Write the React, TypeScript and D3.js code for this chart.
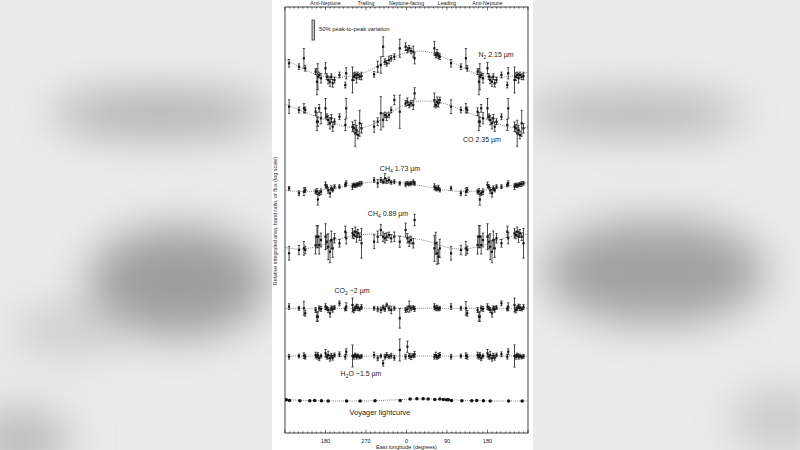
import React, { useEffect, useRef } from "react";
import * as d3 from "d3";

// longitude axis (unwrapped: 90..630 covers 1.5 rotations)
const longitudeTicks = [180, 270, 360, 450, 540];
const tickLabels = ["180", "270", "0", "90", "180"];
const faceLabels = ["Anti-Neptune", "Trailing", "Neptune-facing", "Leading", "Anti-Neptune"];

// sub-observer east longitudes of the spectra (deg)
const obsLongitudes = [
    163, 166, 170, 180, 183, 186, 190, 193, 196, 200,
    211, 224, 226, 240, 243, 246, 249, 252, 256, 260,
    288, 296, 303, 308, 312, 316, 321, 326, 333, 345,
    358, 2, 6, 10, 15, 18, 62, 65, 68, 71,
    74, 99, 121, 132, 135, 158, 161,
];

// relative values (1 = band mean), and fractional errors
const n2Values = [
    0.774, 0.801, 0.749, 0.917, 0.774, 0.724, 0.699, 0.774, 0.677, 0.724,
    0.801, 0.654, 0.829, 0.724, 0.774, 0.801, 0.749, 0.801, 0.774, 0.785,
    0.812, 0.947, 0.98, 1.418, 1.047, 1.014, 1.084, 1.122, 1.159, 1.373,
    1.418, 1.327, 1.373, 1.3, 1.282, 1.122, 1.373, 1.199, 1.241, 1.183,
    1.159, 1.014, 0.947, 1.122, 0.917, 0.856, 0.699,
];
const n2Errors = [
    0.3, 0.06, 0.1, 0.12, 0.06, 0.08, 0.1, 0.06, 0.08, 0.06,
    0.06, 0.06, 0.12, 0.3, 0.08, 0.06, 0.1, 0.06, 0.06, 0.08,
    0.06, 0.12, 0.18, 0.22, 0.06, 0.06, 0.08, 0.06, 0.06, 0.2,
    0.08, 0.06, 0.06, 0.06, 0.12, 0.12, 0.15, 0.06, 0.08, 0.06,
    0.06, 0.08, 0.06, 0.22, 0.06, 0.06, 0.3,
];
const coValues = [
    0.865, 1.133, 0.926, 1.133, 0.956, 0.895, 0.837, 0.926, 0.782, 0.865,
    0.956, 0.809, 1.133, 0.782, 0.757, 0.684, 0.731, 0.661, 0.837, 0.757,
    0.782, 0.865, 1.025, 0.895, 0.99, 0.956, 0.99, 1.095, 1.34, 1.058,
    1.254, 1.295, 1.212, 1.254, 1.212, 1.534, 1.34, 1.212, 1.295, 1.254,
    1.34, 1.171, 1.095, 1.133, 1.095, 1.058, 0.865,
];
const coErrors = [
    0.1, 0.08, 0.12, 0.22, 0.06, 0.1, 0.12, 0.08, 0.1, 0.06,
    0.06, 0.12, 0.22, 0.1, 0.08, 0.3, 0.1, 0.08, 0.3, 0.1,
    0.12, 0.08, 0.4, 0.15, 0.06, 0.08, 0.06, 0.06, 0.1, 0.4,
    0.06, 0.08, 0.06, 0.06, 0.1, 0.12, 0.15, 0.06, 0.1, 0.08,
    0.06, 0.15, 0.06, 0.1, 0.06, 0.08, 0.2,
];
const ch4aValues = [
    0.769, 0.872, 0.9, 1.031, 0.996, 0.923, 0.872, 0.964, 0.932, 0.996,
    0.996, 1.031, 1.067, 0.996, 1.031, 1.016, 1.031, 1.045, 1.052, 1.067,
    1.14, 1.067, 1.14, 1.102, 1.18, 1.117, 1.14, 1.089, 1.102, 1.067,
    1.045, 1.067, 1.052, 1.067, 1.089, 1.067, 0.996, 0.964, 0.951, 0.976,
    0.932, 0.964, 0.872, 0.9, 0.932, 0.9, 0.904,
];
const ch4aErrors = [
    0.12, 0.05, 0.06, 0.06, 0.04, 0.06, 0.08, 0.05, 0.04, 0.04,
    0.04, 0.04, 0.05, 0.06, 0.04, 0.04, 0.04, 0.04, 0.05, 0.04,
    0.05, 0.08, 0.05, 0.04, 0.1, 0.05, 0.06, 0.04, 0.04, 0.04,
    0.05, 0.04, 0.04, 0.04, 0.05, 0.04, 0.06, 0.05, 0.04, 0.05,
    0.04, 0.04, 0.05, 0.08, 0.05, 0.04, 0.06,
];
const ch4bValues = [
    1.113, 0.941, 1.041, 1.113, 1.006, 0.909, 0.822, 1.041, 0.88, 1.078,
    0.974, 1.231, 1.078, 1.192, 1.152, 1.231, 1.113, 1.192, 1.113, 0.974,
    1.006, 1.113, 1.274, 1.113, 1.078, 1.113, 1.152, 1.078, 1.113, 1.006,
    1.274, 1.078, 1.006, 1.041, 0.974, 1.56, 0.88, 0.974, 0.796, 0.743,
    0.88, 0.796, 0.851, 0.88, 0.851, 0.941, 1.113,
];
const ch4bErrors = [
    0.25, 0.2, 0.15, 0.3, 0.15, 0.3, 0.25, 0.2, 0.2, 0.1,
    0.08, 0.12, 0.12, 0.1, 0.08, 0.1, 0.12, 0.08, 0.08, 0.35,
    0.15, 0.12, 0.12, 0.1, 0.1, 0.08, 0.06, 0.08, 0.1, 0.12,
    0.15, 0.1, 0.1, 0.08, 0.1, 0.12, 0.3, 0.25, 0.25, 0.15,
    0.2, 0.15, 0.1, 0.15, 0.08, 0.2, 0.25,
];
const co2Values = [
    0.846, 1.0, 0.986, 1.035, 1.0, 0.966, 0.904, 1.0, 0.98, 1.014,
    1.106, 0.986, 1.035, 1.069, 0.966, 1.0, 1.035, 1.014, 0.986, 1.027,
    1.0, 0.98, 0.966, 1.014, 0.986, 1.069, 1.0, 0.966, 1.0, 0.817,
    0.966, 0.986, 1.035, 1.0, 1.014, 0.986, 1.035, 1.0, 1.014, 0.986,
    1.0, 1.035, 1.0, 1.0, 0.904, 0.966, 0.846,
];
const co2Errors = [
    0.1, 0.05, 0.05, 0.06, 0.04, 0.05, 0.08, 0.05, 0.06, 0.04,
    0.05, 0.04, 0.08, 0.15, 0.06, 0.05, 0.05, 0.06, 0.04, 0.05,
    0.04, 0.05, 0.06, 0.05, 0.05, 0.04, 0.05, 0.08, 0.04, 0.22,
    0.05, 0.06, 0.12, 0.05, 0.04, 0.05, 0.06, 0.05, 0.05, 0.04,
    0.04, 0.06, 0.04, 0.15, 0.06, 0.05, 0.1,
];
const h2oValues = [
    1.02, 0.955, 1.0, 1.056, 0.986, 1.02, 0.955, 1.006, 0.966, 1.02,
    1.035, 0.986, 1.091, 1.0, 0.986, 1.02, 0.986, 1.0, 0.98, 0.994,
    1.02, 0.955, 1.0, 0.863, 0.986, 1.02, 0.986, 1.006, 0.966, 1.129,
    0.986, 1.207, 1.0, 0.986, 1.006, 1.035, 0.986, 1.02, 0.974, 1.0,
    1.02, 0.986, 1.0, 1.006, 0.986, 1.02, 0.986,
];
const h2oErrors = [
    0.05, 0.05, 0.04, 0.08, 0.05, 0.08, 0.06, 0.05, 0.05, 0.04,
    0.05, 0.05, 0.06, 0.25, 0.05, 0.04, 0.05, 0.04, 0.04, 0.04,
    0.06, 0.05, 0.04, 0.06, 0.05, 0.05, 0.04, 0.05, 0.05, 0.25,
    0.05, 0.12, 0.05, 0.06, 0.04, 0.06, 0.05, 0.06, 0.04, 0.05,
    0.05, 0.05, 0.04, 0.06, 0.05, 0.06, 0.05,
];

// Voyager lightcurve
const voyagerLongitudes = [8, 23, 37, 48, 63, 74, 82, 89, 93, 100, 123, 145, 156, 171, 186, 227, 257, 290, 346];
const voyagerValues = [
    1.035, 1.041, 1.041, 1.035, 1.027, 1.035, 1.027, 1.02, 1.02, 1.006,
    1.0, 1.0, 1.006, 1.0, 0.994, 0.994, 0.994, 1.0, 1.006,
];

// sinusoidal fits, read at every 45 deg
const fitLongitudes = [0, 45, 90, 135, 180, 225, 270, 315];
const n2Fit = [1.256, 1.282, 1.106, 0.886, 0.774, 0.774, 0.851, 1.062];
const coFit = [1.236, 1.313, 1.228, 1.045, 0.895, 0.782, 0.782, 0.97];
const ch4aFit = [1.067, 0.992, 0.926, 0.904, 0.937, 1.008, 1.08, 1.106];
const ch4bFit = [1.1, 1.02, 0.898, 0.873, 0.966, 1.1, 1.168, 1.168];
const co2Fit = [1, 1, 1, 1, 1, 1, 1, 1];
const h2oFit = [1, 1, 1, 1, 1, 1, 1, 1];
const voyagerFit = [1.027, 1.037, 1.024, 1.006, 0.996, 0.994, 0.996, 1.01];

type Part = { t: string; sub?: boolean };

interface Band {
    values: number[];
    errors: number[] | null;
    lons: number[];
    fit: number[];
    centerY: number;
    label: Part[];
    labelX: number;
    labelY: number;
    dots?: boolean;
}

const W = 800;
const H = 450;
const frame = { left: 285, right: 528, top: 7, bottom: 433 };
const decadePx = 114; // px per factor of 10 (log scale)
const font = "'Liberation Sans', Arial, Helvetica, sans-serif";
const ink = "#141414";

const bands: Band[] = [
    { values: n2Values, errors: n2Errors, lons: obsLongitudes, fit: n2Fit, centerY: 64,
      label: [{ t: "N" }, { t: "2", sub: true }, { t: " 2.15 µm" }], labelX: 496, labelY: 57 },
    { values: coValues, errors: coErrors, lons: obsLongitudes, fit: coFit, centerY: 114.5,
      label: [{ t: "CO 2.35 µm" }], labelX: 482, labelY: 142 },
    { values: ch4aValues, errors: ch4aErrors, lons: obsLongitudes, fit: ch4aFit, centerY: 186.5,
      label: [{ t: "CH" }, { t: "4", sub: true }, { t: " 1.73 µm" }], labelX: 400, labelY: 171 },
    { values: ch4bValues, errors: ch4bErrors, lons: obsLongitudes, fit: ch4bFit, centerY: 242,
      label: [{ t: "CH" }, { t: "4", sub: true }, { t: " 0.89 µm" }], labelX: 388, labelY: 216 },
    { values: co2Values, errors: co2Errors, lons: obsLongitudes, fit: co2Fit, centerY: 308.3,
      label: [{ t: "CO" }, { t: "2", sub: true }, { t: " ~2 µm" }], labelX: 352, labelY: 293 },
    { values: h2oValues, errors: h2oErrors, lons: obsLongitudes, fit: h2oFit, centerY: 356,
      label: [{ t: "H" }, { t: "2", sub: true }, { t: "O ~1.5 µm" }], labelX: 361, labelY: 376 },
    { values: voyagerValues, errors: null, lons: voyagerLongitudes, fit: voyagerFit, centerY: 400.7,
      label: [{ t: "Voyager lightcurve" }], labelX: 380, labelY: 415, dots: true },
];

// soft blurred backdrop outside the figure panel
const backdrop = [
    { cx: 160, cy: 114, rx: 110, ry: 22, fill: "#acacac" },
    { cx: 178, cy: 282, rx: 90, ry: 55, fill: "#9e9e9e" },
    { cx: 70, cy: 330, rx: 60, ry: 25, fill: "#cdcdcd" },
    { cx: 20, cy: 440, rx: 50, ry: 30, fill: "#b8b8b8" },
    { cx: 635, cy: 114, rx: 110, ry: 20, fill: "#b0b0b0" },
    { cx: 655, cy: 272, rx: 110, ry: 52, fill: "#a2a2a2" },
    { cx: 780, cy: 420, rx: 50, ry: 30, fill: "#c8c8c8" },
];

// all copies of a longitude inside the 90..630 window
const wrap = (lon: number) =>
    [-1, 0, 1, 2].map(k => lon + 360 * k).filter(L => L >= 90 && L <= 630);

const App: React.FC = () => {
    const svgRef = useRef<SVGSVGElement>(null);

    useEffect(() => {
        if (!svgRef.current) return;
        const svg = d3.select(svgRef.current);
        svg.selectAll("*").remove();

        const defs = svg.append("defs");
        defs.append("filter")
            .attr("id", "soft")
            .attr("x", "-100%").attr("y", "-100%")
            .attr("width", "300%").attr("height", "300%")
            .append("feGaussianBlur")
            .attr("stdDeviation", 22);
        defs.append("clipPath")
            .attr("id", "plotClip")
            .append("rect")
            .attr("x", frame.left)
            .attr("y", frame.top)
            .attr("width", frame.right - frame.left)
            .attr("height", frame.bottom - frame.top);

        // background
        svg.append("rect").attr("width", W).attr("height", H).attr("fill", "#ebebeb");
        const bg = svg.append("g").attr("filter", "url(#soft)");
        backdrop.forEach(b => {
            bg.append("ellipse")
                .attr("cx", b.cx).attr("cy", b.cy)
                .attr("rx", b.rx).attr("ry", b.ry)
                .attr("fill", b.fill);
        });
        svg.append("rect")
            .attr("x", 272).attr("y", 0)
            .attr("width", 261).attr("height", H)
            .attr("fill", "#fff");

        const x = d3.scaleLinear().domain([90, 630]).range([frame.left, frame.right]);

        const plot = svg.append("g").attr("clip-path", "url(#plotClip)");

        bands.forEach(band => {
            const y = d3.scaleLog()
                .domain([0.1, 10])
                .range([band.centerY + decadePx, band.centerY - decadePx]);

            // fit curve, repeated every 360 deg
            const fitPts: [number, number][] = [];
            [-1, 0, 1, 2].forEach(k => {
                fitLongitudes.forEach((L, i) => {
                    const LL = L + 360 * k;
                    if (LL >= 0 && LL <= 720) fitPts.push([LL, band.fit[i]]);
                });
            });
            fitPts.sort((a, b) => a[0] - b[0]);
            const line = d3.line<[number, number]>()
                .x(d => x(d[0]))
                .y(d => y(d[1]))
                .curve(d3.curveNatural);
            plot.append("path")
                .datum(fitPts)
                .attr("fill", "none")
                .attr("stroke", "#555")
                .attr("stroke-width", 0.8)
                .attr("stroke-dasharray", "0.9,1.2")
                .attr("d", line);

            band.values.forEach((v, i) => {
                wrap(band.lons[i]).forEach(L => {
                    const cx = x(L);
                    const cy = y(v);
                    if (band.errors) {
                        const e = band.errors[i];
                        const y0 = y(v / (1 + e));
                        const y1 = y(v * (1 + e));
                        plot.append("line")
                            .attr("x1", cx).attr("x2", cx)
                            .attr("y1", y0).attr("y2", y1)
                            .attr("stroke", ink).attr("stroke-width", 0.75);
                        [y0, y1].forEach(yy => {
                            plot.append("line")
                                .attr("x1", cx - 1.2).attr("x2", cx + 1.2)
                                .attr("y1", yy).attr("y2", yy)
                                .attr("stroke", ink).attr("stroke-width", 0.7);
                        });
                        plot.append("rect")
                            .attr("x", cx - 1.1).attr("y", cy - 1.1)
                            .attr("width", 2.2).attr("height", 2.2)
                            .attr("fill", ink);
                    } else {
                        plot.append("circle")
                            .attr("cx", cx).attr("cy", cy)
                            .attr("r", 1.75)
                            .attr("fill", ink);
                    }
                });
            });

            // band label with subscripts
            const t = svg.append("text")
                .attr("x", band.labelX)
                .attr("y", band.labelY)
                .attr("text-anchor", "middle")
                .attr("font-family", font)
                .attr("font-size", band.dots ? 7.4 : 7)
                .attr("fill", "#222");
            band.label.forEach(p => {
                const s = t.append("tspan").text(p.t);
                if (p.sub) s.attr("font-size", 5).attr("dy", 1.5);
                else if (t.selectAll("tspan").size() > 1) s.attr("dy", -1.5);
            });
        });

        // frame
        svg.append("rect")
            .attr("x", frame.left).attr("y", frame.top)
            .attr("width", frame.right - frame.left)
            .attr("height", frame.bottom - frame.top)
            .attr("fill", "none")
            .attr("stroke", ink)
            .attr("stroke-width", 0.8);

        // ticks, top and bottom, pointing inward
        d3.range(90, 631, 10).forEach(L => {
            const len = L % 90 === 0 ? 3.2 : 1.6;
            svg.append("line")
                .attr("x1", x(L)).attr("x2", x(L))
                .attr("y1", frame.bottom).attr("y2", frame.bottom - len)
                .attr("stroke", ink).attr("stroke-width", 0.6);
            svg.append("line")
                .attr("x1", x(L)).attr("x2", x(L))
                .attr("y1", frame.top).attr("y2", frame.top + len)
                .attr("stroke", ink).attr("stroke-width", 0.6);
        });

        longitudeTicks.forEach((L, i) => {
            svg.append("text")
                .attr("x", x(L)).attr("y", 443)
                .attr("text-anchor", "middle")
                .attr("font-family", font)
                .attr("font-size", 5.6)
                .attr("fill", "#222")
                .text(tickLabels[i]);
            svg.append("text")
                .attr("x", x(L)).attr("y", 4.6)
                .attr("text-anchor", "middle")
                .attr("font-family", font)
                .attr("font-size", 5.2)
                .attr("fill", "#222")
                .text(faceLabels[i]);
        });

        svg.append("text")
            .attr("x", (frame.left + frame.right) / 2).attr("y", 449)
            .attr("text-anchor", "middle")
            .attr("font-family", font)
            .attr("font-size", 5.6)
            .attr("fill", "#222")
            .text("East longitude (degrees)");

        svg.append("text")
            .attr("transform", "translate(277,221) rotate(-90)")
            .attr("text-anchor", "middle")
            .attr("font-family", font)
            .attr("font-size", 5.4)
            .attr("fill", "#333")
            .text("Relative integrated area, band ratio, or flux (log scale)");

        // 50% peak-to-peak scale bar (factor 1.5 on the log axis)
        const barH = decadePx * Math.log10(1.5);
        svg.append("rect")
            .attr("x", 312).attr("y", 20)
            .attr("width", 2.6).attr("height", barH)
            .attr("fill", "#c4c4c4")
            .attr("stroke", "#222")
            .attr("stroke-width", 0.7);
        svg.append("text")
            .attr("x", 319).attr("y", 31)
            .attr("font-family", font)
            .attr("font-size", 5.8)
            .attr("fill", "#222")
            .text("50% peak-to-peak variation");
    }, []);

    return (
        <svg
            ref={svgRef}
            width={W}
            height={H}
            style={{ position: "absolute", left: 0, top: 0, display: "block" }}
        />
    );
};

export default App;
